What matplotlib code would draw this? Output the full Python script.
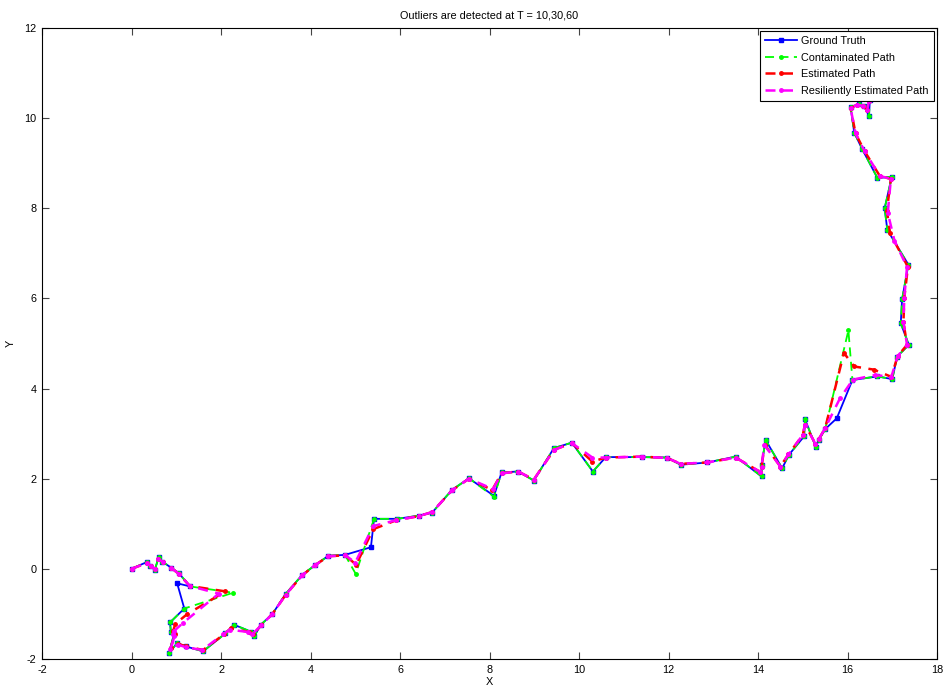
import matplotlib
matplotlib.use("Agg")
import matplotlib.pyplot as plt

plt.rcParams['font.family'] = ['Liberation Sans', 'DejaVu Sans']
plt.rcParams['axes.unicode_minus'] = False

# Ground truth path
gt_x = [0.00, 0.34, 0.41, 0.52, 0.61, 0.69, 0.88, 1.06, 1.31, 1.02,
        1.18, 0.86, 0.88, 0.95, 0.84, 1.02, 1.21, 1.60, 2.10, 2.29,
        2.66, 2.74, 2.89, 3.15, 3.45, 3.82, 4.10, 4.40, 4.77, 5.35,
        5.42, 5.94, 6.42, 6.72, 7.16, 7.54, 8.10, 8.27, 8.64, 8.99,
        9.44, 9.84, 10.31, 10.60, 11.41, 11.97, 12.27, 12.87, 13.50, 14.08,
        14.08, 14.17, 14.54, 14.69, 15.03, 15.05, 15.29, 15.36, 15.50, 15.76,
        16.11, 16.67, 17.00, 17.11, 17.37, 17.19, 17.22, 17.36, 16.89, 16.83,
        16.99, 16.67, 16.33, 16.15, 16.07, 16.26, 16.37, 16.48, 16.50]
gt_y = [0.00, 0.15, 0.07, -0.02, 0.26, 0.16, 0.03, -0.10, -0.39, -0.32,
        -0.88, -1.19, -1.39, -1.45, -1.86, -1.65, -1.72, -1.83, -1.43, -1.24,
        -1.39, -1.50, -1.24, -1.00, -0.55, -0.13, 0.08, 0.29, 0.31, 0.48,
        1.11, 1.11, 1.18, 1.25, 1.75, 2.01, 1.62, 2.14, 2.16, 1.96,
        2.68, 2.80, 2.16, 2.48, 2.48, 2.47, 2.31, 2.36, 2.49, 2.05,
        2.31, 2.86, 2.23, 2.53, 2.94, 3.32, 2.71, 2.86, 3.10, 3.34,
        4.19, 4.27, 4.21, 4.71, 4.97, 5.45, 5.98, 6.75, 7.52, 8.00,
        8.70, 8.67, 9.31, 9.68, 10.24, 10.32, 10.27, 10.05, 10.40]

# Contaminated measurements (outliers at T = 10, 30, 60)
cp_x = [0.00, 0.34, 0.41, 0.52, 0.61, 0.69, 0.88, 1.06, 1.31, 2.27,
        1.18, 0.86, 0.88, 0.95, 0.84, 1.02, 1.21, 1.60, 2.10, 2.29,
        2.66, 2.74, 2.89, 3.15, 3.45, 3.82, 4.10, 4.40, 4.77, 5.01,
        5.42, 5.94, 6.42, 6.72, 7.16, 7.54, 8.10, 8.27, 8.64, 8.99,
        9.44, 9.84, 10.31, 10.60, 11.41, 11.97, 12.27, 12.87, 13.50, 14.08,
        14.08, 14.17, 14.54, 14.69, 15.03, 15.05, 15.29, 15.36, 15.50, 16.02,
        16.11, 16.67, 17.00, 17.11, 17.37, 17.19, 17.22, 17.36, 16.89, 16.83,
        16.99, 16.67, 16.33, 16.15, 16.07, 16.26, 16.37, 16.48, 16.50]
cp_y = [0.00, 0.15, 0.07, -0.02, 0.26, 0.16, 0.03, -0.10, -0.39, -0.53,
        -0.88, -1.19, -1.39, -1.45, -1.86, -1.65, -1.72, -1.83, -1.43, -1.24,
        -1.39, -1.50, -1.24, -1.00, -0.55, -0.13, 0.08, 0.29, 0.31, -0.11,
        1.11, 1.11, 1.18, 1.25, 1.75, 2.01, 1.60, 2.14, 2.16, 1.96,
        2.68, 2.80, 2.16, 2.48, 2.48, 2.47, 2.31, 2.36, 2.49, 2.05,
        2.31, 2.86, 2.23, 2.53, 2.94, 3.32, 2.71, 2.86, 3.10, 5.29,
        4.19, 4.27, 4.21, 4.71, 4.97, 5.45, 5.98, 6.75, 7.52, 8.00,
        8.70, 8.67, 9.31, 9.68, 10.24, 10.32, 10.27, 10.05, 10.40]

# Estimated path
ep_x = [0.00, 0.34, 0.43, 0.53, 0.60, 0.70, 0.89, 1.07, 1.30, 2.10,
        1.25, 0.98, 0.93, 0.97, 0.88, 1.03, 1.22, 1.60, 2.07, 2.22,
        2.62, 2.72, 2.90, 3.15, 3.45, 3.82, 4.10, 4.40, 4.78, 5.02,
        5.40, 5.92, 6.42, 6.72, 7.16, 7.54, 8.06, 8.27, 8.64, 8.99,
        9.44, 9.84, 10.30, 10.60, 11.41, 11.97, 12.27, 12.87, 13.50, 14.05,
        14.08, 14.15, 14.50, 14.68, 15.00, 15.05, 15.28, 15.36, 15.50, 15.92,
        16.15, 16.59, 16.98, 17.12, 17.33, 17.25, 17.27, 17.35, 16.95, 16.88,
        16.97, 16.72, 16.38, 16.18, 16.07, 16.22, 16.35, 16.44, 16.48]
ep_y = [0.00, 0.13, 0.06, 0.00, 0.22, 0.15, 0.02, -0.12, -0.38, -0.50,
        -1.00, -1.22, -1.38, -1.45, -1.75, -1.66, -1.72, -1.80, -1.45, -1.32,
        -1.40, -1.45, -1.25, -1.00, -0.57, -0.14, 0.08, 0.28, 0.30, 0.09,
        0.88, 1.08, 1.17, 1.26, 1.74, 2.00, 1.75, 2.12, 2.16, 1.98,
        2.64, 2.79, 2.38, 2.47, 2.49, 2.46, 2.33, 2.36, 2.47, 2.15,
        2.27, 2.75, 2.27, 2.54, 2.97, 3.20, 2.78, 2.88, 3.12, 4.79,
        4.49, 4.42, 4.26, 4.72, 4.97, 5.48, 6.02, 6.70, 7.45, 7.95,
        8.65, 8.72, 9.27, 9.66, 10.22, 10.30, 10.27, 10.18, 10.38]

# Resiliently estimated path
rp_x = [0.00, 0.34, 0.43, 0.53, 0.60, 0.70, 0.89, 1.07, 1.30, 1.95,
        1.15, 0.95, 0.92, 0.96, 0.87, 1.03, 1.22, 1.58, 2.05, 2.20,
        2.60, 2.70, 2.90, 3.15, 3.45, 3.82, 4.10, 4.40, 4.78, 5.00,
        5.40, 5.92, 6.42, 6.72, 7.16, 7.54, 8.08, 8.27, 8.64, 8.99,
        9.44, 9.84, 10.30, 10.60, 11.41, 11.97, 12.27, 12.87, 13.50, 14.05,
        14.08, 14.14, 14.50, 14.68, 15.00, 15.05, 15.28, 15.36, 15.50, 15.83,
        16.12, 16.62, 16.98, 17.12, 17.33, 17.25, 17.27, 17.33, 17.05, 16.90,
        16.97, 16.72, 16.38, 16.18, 16.07, 16.22, 16.35, 16.44, 16.48]
rp_y = [0.00, 0.13, 0.06, 0.00, 0.22, 0.15, 0.02, -0.12, -0.38, -0.55,
        -1.20, -1.38, -1.45, -1.50, -1.78, -1.68, -1.74, -1.80, -1.45, -1.35,
        -1.40, -1.45, -1.25, -1.00, -0.57, -0.14, 0.08, 0.28, 0.30, 0.14,
        0.95, 1.08, 1.17, 1.26, 1.74, 2.00, 1.77, 2.12, 2.16, 1.98,
        2.64, 2.79, 2.47, 2.47, 2.49, 2.46, 2.33, 2.36, 2.47, 2.15,
        2.27, 2.75, 2.27, 2.54, 2.97, 3.20, 2.78, 2.88, 3.12, 3.78,
        4.20, 4.30, 4.26, 4.72, 4.97, 5.48, 6.02, 6.70, 7.28, 7.90,
        8.65, 8.72, 9.27, 9.66, 10.22, 10.30, 10.27, 10.18, 10.38]

title_text = "Outliers are detected at T = 10,30,60"
x_ticks = [-2, 0, 2, 4, 6, 8, 10, 12, 14, 16, 18]
y_ticks = [-2, 0, 2, 4, 6, 8, 10, 12]

fig = plt.figure(figsize=(9.46, 6.90), dpi=100)
ax = fig.add_axes([42/946, 31/690, 895/946, 631/690])

ax.plot(gt_x, gt_y, color=(0, 0, 1), lw=1.3, marker='s', ms=3.2,
        mfc=(0, 0, 1), mec=(0, 0, 1), label='Ground Truth')
ax.plot(cp_x, cp_y, color=(0, 1, 0), lw=1.3, ls=(0, (5, 3)), marker='.', ms=5,
        label='Contaminated Path')
ax.plot(ep_x, ep_y, color=(1, 0, 0), lw=1.8, ls=(0, (4, 3)), marker='.', ms=5,
        label='Estimated Path')
ax.plot(rp_x, rp_y, color=(1, 0, 1), lw=1.8, ls=(0, (4, 3)), marker='.', ms=5,
        label='Resiliently Estimated Path')

ax.set_xlim(-2, 18)
ax.set_ylim(-2, 12)
ax.set_xticks(x_ticks)
ax.set_yticks(y_ticks)
ax.tick_params(direction='in', top=True, right=True, length=5, width=0.8,
               labelsize=7.8, pad=4, color='#444444')
for s in ax.spines.values():
    s.set_linewidth(0.8)
ax.set_title(title_text, fontsize=7.8, pad=7)
ax.set_xlabel('X', fontsize=7.8, labelpad=2)
ax.set_ylabel('Y', fontsize=7.8, labelpad=6)

leg = ax.legend(loc='upper right', fontsize=7.8, fancybox=False, framealpha=1,
                edgecolor='black', borderaxespad=0.3, handlelength=3.0,
                labelspacing=0.6, borderpad=0.45, handletextpad=0.4)
leg.get_frame().set_linewidth(0.8)

fig.savefig('out.png', dpi=100)
